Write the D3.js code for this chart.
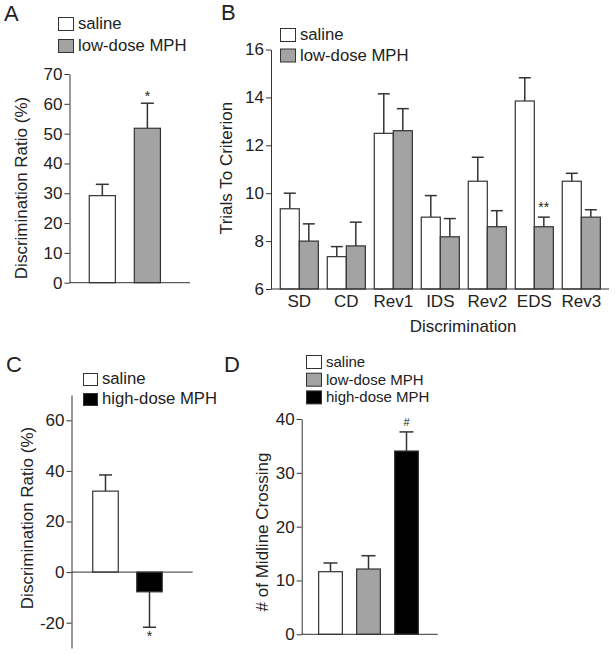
<!DOCTYPE html>
<html>
<head>
<meta charset="utf-8">
<script src="https://cdn.jsdelivr.net/npm/d3@7"></script>
<style>
  html, body { margin: 0; padding: 0; background: #fff; }
  svg { display: block; }
  text { font-family: "Liberation Sans", Arial, sans-serif; fill: #222; }
</style>
</head>
<body>
<svg id="chart" width="615" height="654"></svg>
<script>
// ---------- DATA ----------
// Panel A: novel object discrimination, saline vs low-dose MPH
const aGroups = ["saline", "low-dose MPH"];
const aValues = [29.2, 51.8];
const aSem = [3.8, 8.4];
const aTicks = [0, 10, 20, 30, 40, 50, 60, 70];

// Panel B: trials to criterion per discrimination stage
const bCategories = ["SD", "CD", "Rev1", "IDS", "Rev2", "EDS", "Rev3"];
const bSeries = ["saline", "low-dose MPH"];
const bSaline = [9.35, 7.35, 12.5, 9.0, 10.5, 13.85, 10.5];
const bSalineSem = [0.65, 0.42, 1.65, 0.9, 1.0, 0.97, 0.33];
const bMph = [8.0, 7.8, 12.61, 8.18, 8.6, 8.6, 9.0];
const bMphSem = [0.72, 0.99, 0.92, 0.76, 0.67, 0.4, 0.31];
const bTicks = [6, 8, 10, 12, 14, 16];

// Panel C: discrimination ratio, saline vs high-dose MPH
const cGroups = ["saline", "high-dose MPH"];
const cValues = [32, -7.8];
const cSem = [6.4, 14.0];
const cTicks = [-20, 0, 20, 40, 60];

// Panel D: midline crossings
const dGroups = ["saline", "low-dose MPH", "high-dose MPH"];
const dValues = [11.63, 12.13, 34.05];
const dSem = [1.62, 2.47, 3.55];
const dTicks = [0, 10, 20, 30, 40];

// ---------- STYLE ----------
const COL = { "saline": "#ffffff", "low-dose MPH": "#a3a3a3", "high-dose MPH": "#000000" };
const STROKE = "#333";
const svg = d3.select("#chart");

function panelLetter(txt, x, y) {
  svg.append("text").attr("x", x).attr("y", y).attr("font-size", 22).text(txt);
}
function legend(items, x, y0, step, fs, bw, bh) {
  const g = svg.append("g");
  items.forEach((d, i) => {
    const y = y0 + i * step;
    g.append("rect").attr("x", x + 0.5).attr("y", y + 0.5).attr("width", bw).attr("height", bh)
      .attr("fill", COL[d]).attr("stroke", STROKE).attr("stroke-width", 1);
    g.append("text").attr("x", x + bw + 5).attr("y", y + bh - 1).attr("font-size", fs).text(d);
  });
}
function yAxis(scale, x, ticks) {
  const g = svg.append("g").attr("transform", `translate(${x},0)`)
    .call(d3.axisLeft(scale).tickValues(ticks).tickSize(5).tickSizeOuter(0).tickPadding(2)
      .tickFormat(d => String(d)));
  g.selectAll("path, line").attr("stroke", STROKE);
  g.selectAll("text").attr("font-size", 17).attr("fill", "#222")
    .style("font-family", '"Liberation Sans", Arial, sans-serif');
  return g;
}
function hLine(x1, x2, y) {
  svg.append("line").attr("x1", x1).attr("x2", x2).attr("y1", y).attr("y2", y)
    .attr("stroke", STROKE).attr("stroke-width", 1);
}
function yTitle(txt, cx, cy) {
  svg.append("text").attr("transform", `translate(${cx},${cy}) rotate(-90)`)
    .attr("text-anchor", "middle").attr("dy", "0.26em").attr("font-size", 17).text(txt);
}
function bars(data, xFn, wFn, y, capW) {
  const g = svg.append("g");
  const base = Math.max(0, y.domain()[0]);
  data.forEach(d => {
    const x0 = xFn(d), w = wFn(d);
    const yv = y(d.v), y0 = y(base);
    const top = Math.min(yv, y0), h = Math.abs(yv - y0);
    const cx = x0 + w / 2;
    const ye = d.v >= 0 ? y(d.v + d.e) : y(d.v - d.e);
    g.append("line").attr("x1", cx).attr("x2", cx).attr("y1", yv).attr("y2", ye)
      .attr("stroke", STROKE).attr("stroke-width", 1.5);
    g.append("line").attr("x1", cx - capW / 2).attr("x2", cx + capW / 2).attr("y1", ye).attr("y2", ye)
      .attr("stroke", STROKE).attr("stroke-width", 1.5);
    g.append("rect").attr("x", x0).attr("y", top).attr("width", w).attr("height", h)
      .attr("fill", COL[d.s]).attr("stroke", STROKE).attr("stroke-width", 1.2);
  });
}
function mark(txt, x, y, fs) {
  svg.append("text").attr("x", x).attr("y", y).attr("text-anchor", "middle").attr("font-size", fs).text(txt);
}

// ---------- PANEL A ----------
panelLetter("A", 4, 21);
legend(aGroups, 58, 17, 22, 16.7, 15, 13);
{
  const y = d3.scaleLinear().domain([0, 70]).range([282.7, 74]);
  const x = d3.scaleBand().domain(aGroups).range([79.8, 169.9]).paddingInner(0.42).paddingOuter(0.21);
  const data = aGroups.map((s, i) => ({ s, k: s, v: aValues[i], e: aSem[i] }));
  bars(data, d => x(d.k), () => x.bandwidth(), y, 13);
  yAxis(y, 69.5, aTicks);
  hLine(69.5, 190, y(0));
  mark("*", x("low-dose MPH") + x.bandwidth() / 2, y(aValues[1] + aSem[1]) - 2, 14);
  yTitle("Discrimination Ratio (%)", 23, 188);
}

// ---------- PANEL B ----------
panelLetter("B", 221, 20);
legend(bSeries, 280, 28, 20.5, 16.7, 15, 13);
{
  const y = d3.scaleLinear().domain([6, 16]).range([289, 49.5]);
  const x = d3.scaleBand().domain(bCategories).range([275.8, 604.8]).paddingInner(0.19).paddingOuter(0.095);
  const xs = d3.scaleBand().domain(bSeries).range([0, x.bandwidth()]);
  const data = [];
  bCategories.forEach((c, i) => {
    data.push({ c, s: "saline", v: bSaline[i], e: bSalineSem[i] });
    data.push({ c, s: "low-dose MPH", v: bMph[i], e: bMphSem[i] });
  });
  bars(data, d => x(d.c) + xs(d.s), () => xs.bandwidth(), y, 12);
  yAxis(y, 271, bTicks);
  const gx = svg.append("g").attr("transform", `translate(0,${y(6)})`)
    .call(d3.axisBottom(x).tickSize(0).tickPadding(6));
  gx.select(".domain").remove();
  gx.selectAll("text").attr("font-size", 17).attr("fill", "#222")
    .style("font-family", '"Liberation Sans", Arial, sans-serif');
  hLine(271, 609, y(6));
  const iE = bCategories.indexOf("EDS");
  mark("**", x("EDS") + xs("low-dose MPH") + xs.bandwidth() / 2, y(bMph[iE] + bMphSem[iE]) - 5, 14);
  yTitle("Trials To Criterion", 228, 168);
  svg.append("text").attr("x", 463).attr("y", 332).attr("text-anchor", "middle")
    .attr("font-size", 17).text("Discrimination");
}

// ---------- PANEL C ----------
panelLetter("C", 6, 372);
legend(cGroups, 83, 373, 20, 16.7, 14, 12);
{
  const y = d3.scaleLinear().domain([-30, 70]).range([648, 395]);
  const x = d3.scaleBand().domain(cGroups).range([83.5, 171.5]).paddingInner(0.42).paddingOuter(0.21);
  const data = cGroups.map((s, i) => ({ s, k: s, v: cValues[i], e: cSem[i] }));
  bars(data, d => x(d.k), () => x.bandwidth(), y, 13);
  yAxis(y, 71.5, cTicks);
  hLine(71.5, 192.7, y(0));
  mark("*", x("high-dose MPH") + x.bandwidth() / 2, y(cValues[1] - cSem[1]) + 14, 14);
  yTitle("Discrimination Ratio (%)", 28.5, 518);
}

// ---------- PANEL D ----------
panelLetter("D", 224, 372);
legend(dGroups, 306, 355, 17.7, 15, 15, 13);
{
  const y = d3.scaleLinear().domain([0, 40]).range([634.3, 419]);
  const x = d3.scaleBand().domain(dGroups).range([311.5, 425.5]).paddingInner(0.376).paddingOuter(0.188);
  const data = dGroups.map((s, i) => ({ s, k: s, v: dValues[i], e: dSem[i] }));
  bars(data, d => x(d.k), () => x.bandwidth(), y, 14);
  yAxis(y, 301.7, dTicks);
  hLine(301.7, 437.7, y(0));
  mark("#", x("high-dose MPH") + x.bandwidth() / 2, y(dValues[2] + dSem[2]) - 6, 11);
  yTitle("# of Midline Crossing", 263.3, 532);
}
</script>
</body>
</html>
